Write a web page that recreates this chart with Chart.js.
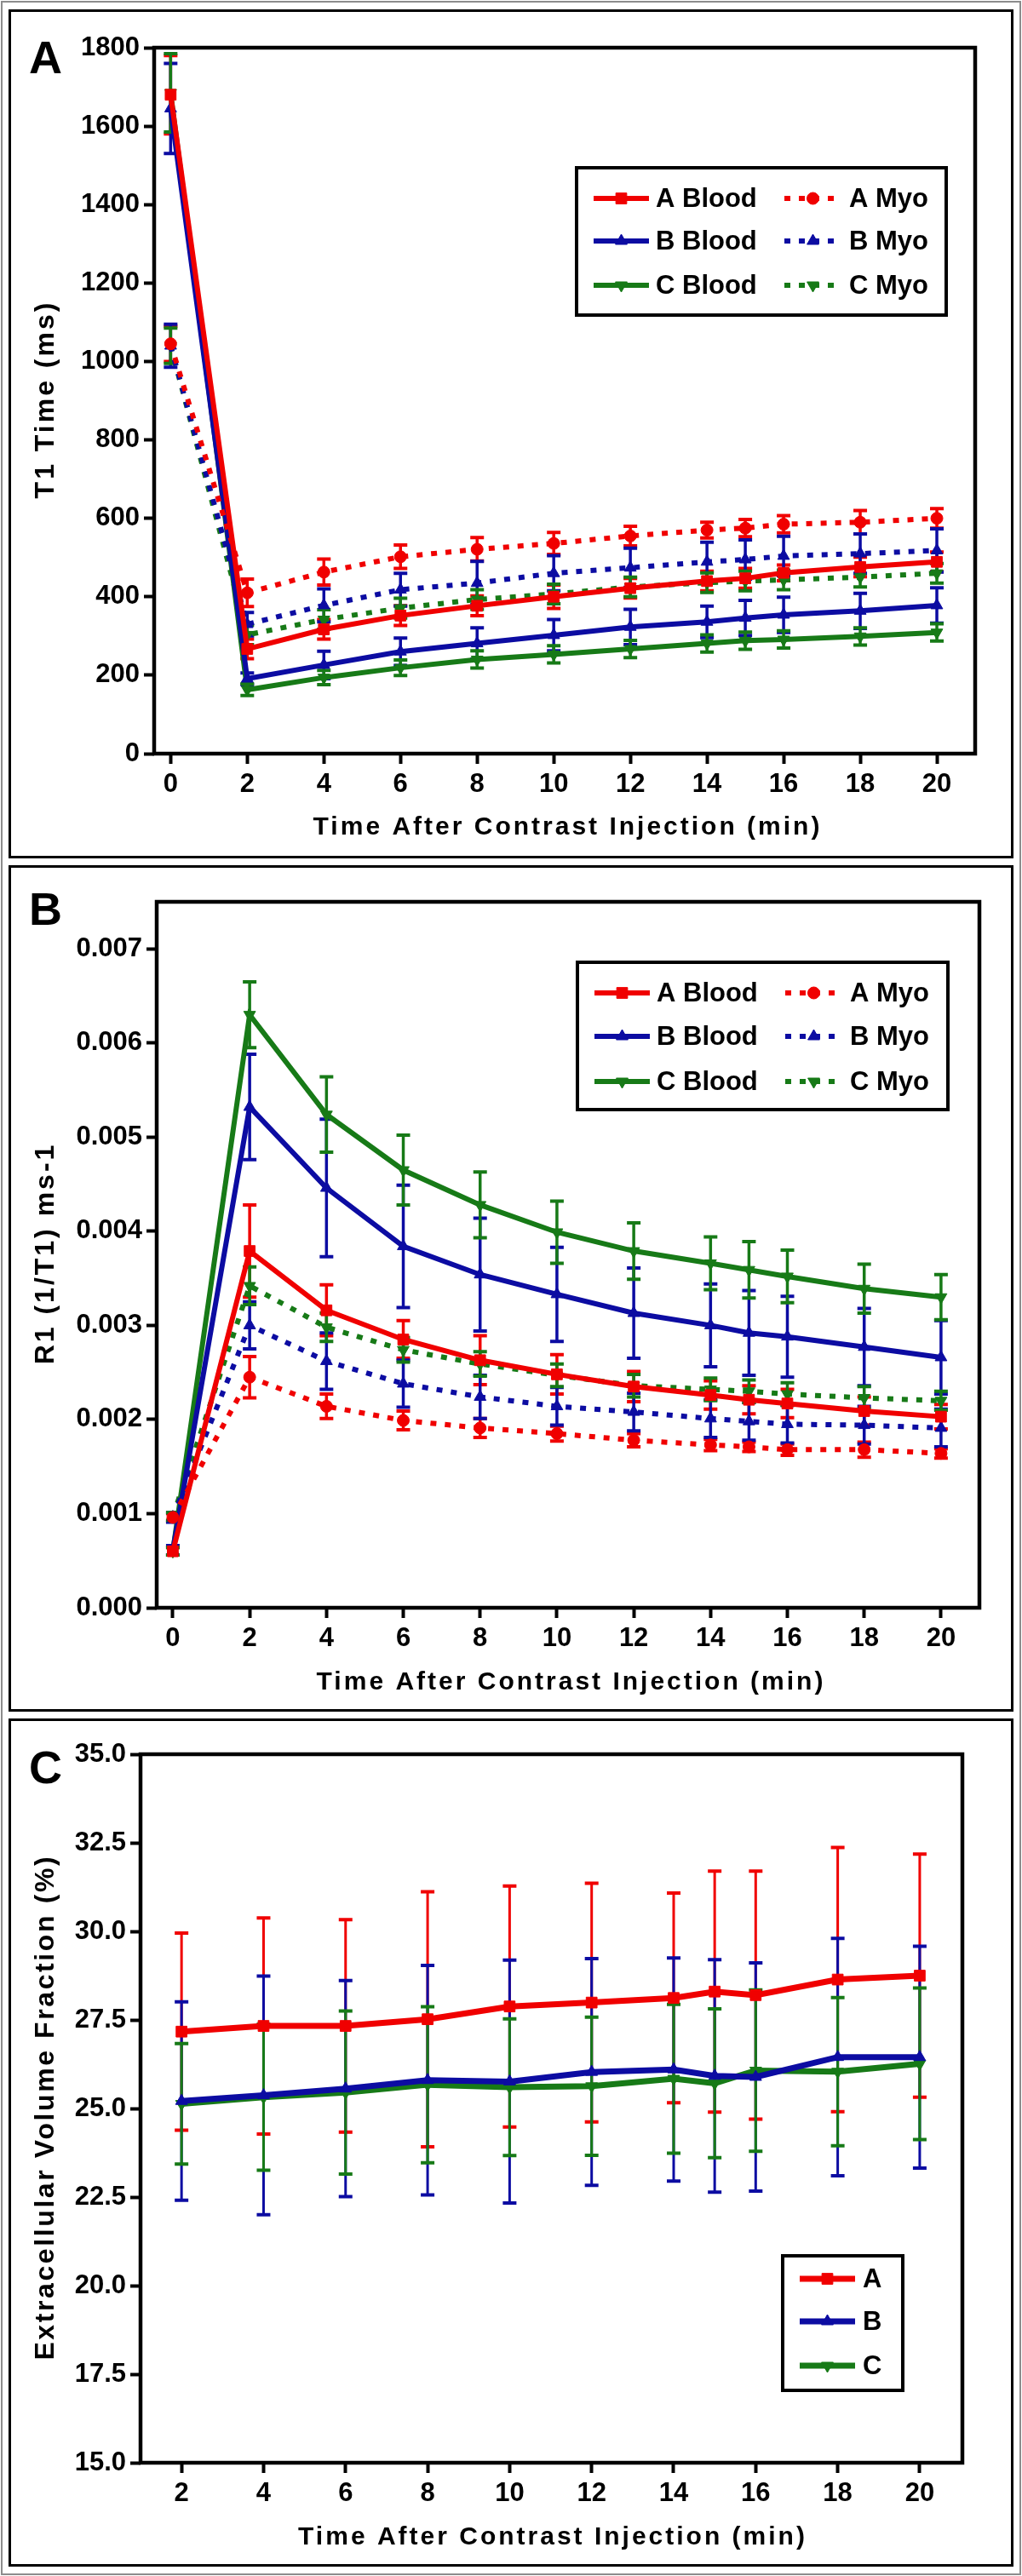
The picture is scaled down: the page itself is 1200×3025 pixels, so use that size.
<!DOCTYPE html>
<html>
<head>
<meta charset="utf-8">
<script src="https://cdn.jsdelivr.net/npm/chart.js@4.4.0/dist/chart.umd.min.js"></script>
<style>
html,body{margin:0;padding:0;background:#fff;}
#page{position:relative;width:1200px;height:3025px;overflow:hidden;background:#fff;}
.wrap{position:absolute;left:0;width:1200px;}
canvas{display:block;}
.frame{position:absolute;border:3px solid #000;box-sizing:border-box;pointer-events:none;}
.outer{position:absolute;border:2px solid #8c8c8c;box-sizing:border-box;pointer-events:none;}
</style>
</head>
<body>
<div id="page">
  <div class="wrap" style="top:0;height:1006px"><canvas id="cA"></canvas></div>
  <div class="wrap" style="top:1006px;height:1002px"><canvas id="cB"></canvas></div>
  <div class="wrap" style="top:2008px;height:1017px"><canvas id="cC"></canvas></div>
  <div class="outer" style="left:1px;top:1px;width:1198px;height:3023px"></div>
  <div class="frame" style="left:10px;top:11px;width:1180px;height:997px"></div>
  <div class="frame" style="left:10px;top:1016px;width:1180px;height:994px"></div>
  <div class="frame" style="left:10px;top:2018px;width:1180px;height:996px"></div>
</div>
<script>
// ---------- DATA ----------
const timeAB = [0, 2, 4, 6, 8, 10, 12, 14, 15, 16, 18, 20];
const timeC  = [2, 4, 6, 8, 10, 12, 14, 15, 16, 18, 20];
const xTicksAB = [0, 2, 4, 6, 8, 10, 12, 14, 16, 18, 20];
const xTicksC  = [2, 4, 6, 8, 10, 12, 14, 16, 18, 20];
const yTicksA = [0, 200, 400, 600, 800, 1000, 1200, 1400, 1600, 1800];
const yTicksB = [0, 0.001, 0.002, 0.003, 0.004, 0.005, 0.006, 0.007];
const yTicksC = [15, 17.5, 20, 22.5, 25, 27.5, 30, 32.5, 35];

// Panel A: T1 time (ms)
const t1ABlood    = [1680, 267, 317, 352, 377, 400, 422, 440, 447, 461, 476, 489];
const t1ABloodErr = [100, 25, 25, 25, 25, 30, 25, 25, 25, 20, 25, 25];
const t1BBlood    = [1645, 191, 226, 260, 281, 302, 323, 336, 346, 354, 364, 378];
const t1BBloodErr = [115, 15, 35, 35, 40, 40, 45, 40, 45, 45, 45, 45];
const t1CBlood    = [1685, 163, 194, 219, 240, 253, 267, 281, 288, 291, 299, 309];
const t1CBloodErr = [100, 15, 18, 20, 22, 22, 22, 22, 22, 22, 22, 22];
const t1AMyo      = [1045, 410, 463, 502, 521, 536, 555, 570, 575, 585, 590, 600];
const t1AMyoErr   = [45, 35, 33, 30, 30, 28, 25, 20, 22, 22, 30, 25];
const t1BMyo      = [1040, 330, 378, 418, 435, 460, 474, 489, 495, 504, 510, 518];
const t1BMyoErr   = [55, 30, 42, 42, 55, 45, 50, 50, 50, 50, 50, 55];
const t1CMyo      = [1040, 303, 342, 371, 393, 407, 425, 436, 440, 443, 450, 460];
const t1CMyoErr   = [45, 25, 25, 25, 25, 25, 25, 25, 25, 25, 25, 25];

// Panel B: R1 (1/T1)
const r1ABlood    = [0.00060, 0.00379, 0.00316, 0.00285, 0.00263, 0.00248, 0.00235, 0.00226, 0.00221, 0.00217, 0.00209, 0.00203];
const r1ABloodErr = [0.00004, 0.00049, 0.00027, 0.00020, 0.00026, 0.00021, 0.00016, 0.00015, 0.00015, 0.00015, 0.00015, 0.00013];
const r1BBlood    = [0.00061, 0.00532, 0.00446, 0.00384, 0.00354, 0.00333, 0.00313, 0.00300, 0.00292, 0.00288, 0.00277, 0.00266];
const r1BBloodErr = [0.00005, 0.00056, 0.00073, 0.00065, 0.00060, 0.00050, 0.00048, 0.00044, 0.00045, 0.00043, 0.00041, 0.00039];
const r1CBlood    = [0.00060, 0.00630, 0.00524, 0.00465, 0.00428, 0.00399, 0.00379, 0.00366, 0.00359, 0.00352, 0.00339, 0.00330];
const r1CBloodErr = [0.00004, 0.00035, 0.00040, 0.00037, 0.00035, 0.00033, 0.00030, 0.00028, 0.00030, 0.00028, 0.00026, 0.00024];
const r1AMyo      = [0.00096, 0.00245, 0.00214, 0.00199, 0.00191, 0.00185, 0.00178, 0.00173, 0.00171, 0.00168, 0.00168, 0.00164];
const r1AMyoErr   = [0.00004, 0.00022, 0.00013, 0.00010, 0.00010, 0.00008, 0.00007, 0.00006, 0.00005, 0.00006, 0.00008, 0.00005];
const r1BMyo      = [0.00096, 0.00300, 0.00262, 0.00238, 0.00224, 0.00214, 0.00208, 0.00201, 0.00198, 0.00195, 0.00194, 0.00191];
const r1BMyoErr   = [0.00005, 0.00025, 0.00030, 0.00025, 0.00023, 0.00020, 0.00020, 0.00020, 0.00020, 0.00020, 0.00020, 0.00020];
const r1CMyo      = [0.00097, 0.00342, 0.00298, 0.00274, 0.00259, 0.00247, 0.00236, 0.00232, 0.00230, 0.00227, 0.00223, 0.00220];
const r1CMyoErr   = [0.00004, 0.00020, 0.00015, 0.00013, 0.00013, 0.00012, 0.00012, 0.00012, 0.00012, 0.00012, 0.00012, 0.00010];

// Panel C: extracellular volume fraction (%)
const ecvA    = [27.17, 27.33, 27.33, 27.52, 27.88, 27.99, 28.12, 28.30, 28.20, 28.64, 28.75];
const ecvAErr = [2.78, 3.05, 3.00, 3.60, 3.40, 3.37, 2.96, 3.40, 3.50, 3.73, 3.43];
const ecvB    = [25.21, 25.37, 25.56, 25.80, 25.76, 26.03, 26.10, 25.92, 25.89, 26.45, 26.45];
const ecvBErr = [2.80, 3.37, 3.05, 3.24, 3.43, 3.20, 3.15, 3.28, 3.22, 3.35, 3.13];
const ecvC    = [25.13, 25.32, 25.45, 25.67, 25.60, 25.63, 25.84, 25.71, 26.07, 26.04, 26.26];
const ecvCErr = [1.70, 2.06, 2.30, 2.20, 1.93, 1.95, 2.10, 2.10, 2.28, 2.09, 2.14];

const xTitle = 'Time After Contrast Injection (min)';
const yTitleA = 'T1 Time (ms)';
const yTitleB = 'R1 (1/T1) ms-1';
const yTitleC = 'Extracellular Volume Fraction (%)';

// ---------- STYLE ----------
const RED = '#f00000', BLUE = '#0c0ca2', GREEN = '#177a17';
const FONT = '"Liberation Sans", Arial, Helvetica, sans-serif';
const W = 1200;

function drawMarker(ctx, style, x, y, r, rot, color) {
  ctx.save();
  ctx.fillStyle = color; ctx.strokeStyle = color; ctx.lineWidth = 1; ctx.setLineDash([]);
  ctx.beginPath();
  if (style === 'rect') {
    const s = Math.SQRT1_2 * r;
    ctx.rect(x - s, y - s, 2 * s, 2 * s);
  } else if (style === 'circle') {
    ctx.arc(x, y, r, 0, Math.PI * 2);
  } else {
    let a = (rot || 0) * Math.PI / 180;
    ctx.moveTo(x + Math.sin(a) * r, y - Math.cos(a) * r);
    a += 2 * Math.PI / 3;
    ctx.lineTo(x + Math.sin(a) * r, y - Math.cos(a) * r);
    a += 2 * Math.PI / 3;
    ctx.lineTo(x + Math.sin(a) * r, y - Math.cos(a) * r);
    ctx.closePath();
  }
  ctx.fill(); ctx.stroke();
  ctx.restore();
}

// draws text centred on (0,0) of current transform, with extra letter spacing,
// computing the offset itself (left-aligned draw) so alignment is exact.
function spacedText(ctx, text, spacing) {
  const hasLS = ('letterSpacing' in ctx);
  if (hasLS) ctx.letterSpacing = '0px';
  const w0 = ctx.measureText(text).width;
  const sp = hasLS ? spacing : 0;
  const n = [...text].length;
  const total = w0 + sp * (n - 1);
  if (hasLS) ctx.letterSpacing = sp + 'px';
  ctx.textAlign = 'left';
  ctx.fillText(text, -total / 2, 0);
  if (hasLS) ctx.letterSpacing = '0px';
}

const errorBarPlugin = {
  id: 'errorBars',
  beforeDatasetsDraw(chart, args, o) {
    const ctx = chart.ctx, xs = chart.scales.x, ys = chart.scales.y;
    chart.data.datasets.forEach(ds => {
      if (!ds.errors) return;
      ctx.save();
      ctx.strokeStyle = ds.borderColor; ctx.setLineDash([]); ctx.lineCap = 'butt';
      ds.data.forEach((p, j) => {
        const e = ds.errors[j];
        if (!e) return;
        const px = xs.getPixelForValue(p.x);
        const yt = ys.getPixelForValue(p.y + e), yb = ys.getPixelForValue(p.y - e);
        ctx.lineWidth = o.stem;
        ctx.beginPath(); ctx.moveTo(px, yt); ctx.lineTo(px, yb); ctx.stroke();
        ctx.lineWidth = o.capThick;
        ctx.beginPath();
        ctx.moveTo(px - o.cap / 2, yt); ctx.lineTo(px + o.cap / 2, yt);
        ctx.moveTo(px - o.cap / 2, yb); ctx.lineTo(px + o.cap / 2, yb);
        ctx.stroke();
      });
      ctx.restore();
    });
  }
};

const decorPlugin = {
  id: 'decor',
  afterDraw(chart, args, o) {
    const ctx = chart.ctx, a = chart.chartArea;
    ctx.save();
    // plot box
    ctx.strokeStyle = '#000'; ctx.lineWidth = 4.5; ctx.setLineDash([]);
    ctx.strokeRect(a.left, a.top, a.right - a.left, a.bottom - a.top);
    ctx.fillStyle = '#000';
    ctx.textBaseline = 'middle';
    // x title
    ctx.save();
    ctx.font = 'bold 30px ' + FONT;
    ctx.translate((a.left + a.right) / 2 + o.xTitleDx, o.xTitleY);
    spacedText(ctx, o.xTitle, o.xSpacing);
    ctx.restore();
    // y title
    ctx.save();
    ctx.font = 'bold ' + o.yFont + 'px ' + FONT;
    ctx.translate(o.yTitleX, (a.top + a.bottom) / 2);
    ctx.rotate(-Math.PI / 2);
    spacedText(ctx, o.yTitle, o.ySpacing);
    ctx.restore();
    // panel letter
    ctx.font = 'bold 54px ' + FONT;
    ctx.textAlign = 'left'; ctx.textBaseline = 'alphabetic';
    ctx.fillText(o.letter, o.letterX, o.letterY);
    // legend
    const L = o.legend;
    ctx.fillStyle = '#fff';
    ctx.fillRect(L.box[0], L.box[1], L.box[2] - L.box[0], L.box[3] - L.box[1]);
    ctx.strokeStyle = '#000'; ctx.lineWidth = 4;
    ctx.strokeRect(L.box[0], L.box[1], L.box[2] - L.box[0], L.box[3] - L.box[1]);
    L.items.forEach(it => {
      const ds = chart.data.datasets[it.ds];
      ctx.save();
      ctx.strokeStyle = ds.borderColor; ctx.lineWidth = ds.borderWidth;
      ctx.setLineDash(ds.borderDash || []); ctx.lineCap = 'butt';
      ctx.beginPath(); ctx.moveTo(it.x0, it.y); ctx.lineTo(it.x1, it.y); ctx.stroke();
      ctx.setLineDash([]);
      drawMarker(ctx, ds.pointStyle, (it.x0 + it.x1) / 2, it.y, ds.pointRadius, ds.rotation, ds.borderColor);
      ctx.fillStyle = '#000';
      ctx.font = 'bold ' + L.font + 'px ' + FONT;
      ctx.textAlign = 'left'; ctx.textBaseline = 'middle';
      ctx.fillText(ds.label, it.tx, it.y + 1);
      ctx.restore();
    });
    ctx.restore();
  }
};

function makePanel(id, H, P) {
  const canvas = document.getElementById(id);
  canvas.width = W; canvas.height = H;
  canvas.style.width = W + 'px'; canvas.style.height = H + 'px';
  const datasets = P.series.map(s => ({
    label: s.label,
    data: P.x.map((xv, i) => ({ x: xv, y: s.values[i] })),
    errors: s.errors,
    borderColor: s.color,
    backgroundColor: s.color,
    borderWidth: P.lineWidth,
    borderDash: s.dashed ? P.dash : [],
    borderCapStyle: 'butt',
    pointStyle: s.marker,
    rotation: s.rot || 0,
    pointRadius: s.radius,
    pointBorderWidth: 1,
    pointBorderColor: s.color,
    pointBackgroundColor: s.color,
    tension: 0,
    fill: false,
    clip: 20
  }));
  const tickFont = { family: FONT, size: 31, weight: 'bold' };
  return new Chart(canvas, {
    type: 'line',
    data: { datasets },
    options: {
      responsive: false, animation: false, devicePixelRatio: 1, events: [],
      layout: { padding: { left: 0, top: P.area.top, right: W - P.area.right, bottom: 0 } },
      plugins: {
        legend: { display: false }, tooltip: { enabled: false },
        errorBars: P.err,
        decor: P.decor
      },
      scales: {
        x: {
          type: 'linear', min: P.xMin, max: P.xMax,
          afterBuildTicks: s => { s.ticks = P.xTicks.map(v => ({ value: v })); },
          afterFit: s => { s.height = H - P.area.bottom; },
          border: { display: false },
          grid: { display: true, drawOnChartArea: false, drawTicks: true, tickLength: 12, tickWidth: 4, tickColor: '#000', color: '#000' },
          ticks: { color: '#000', font: tickFont, padding: 6, maxRotation: 0, autoSkip: false, callback: v => String(v) },
          title: { display: false }
        },
        y: {
          type: 'linear', min: P.yMin, max: P.yMax,
          afterBuildTicks: s => { s.ticks = P.yTicks.map(v => ({ value: v })); },
          afterFit: s => { s.width = P.area.left; },
          border: { display: false },
          grid: { display: true, drawOnChartArea: false, drawTicks: true, tickLength: 12, tickWidth: 4, tickColor: '#000', color: '#000' },
          ticks: { color: '#000', font: tickFont, padding: 5, autoSkip: false, callback: P.yFmt },
          title: { display: false }
        }
      }
    },
    plugins: [errorBarPlugin, decorPlugin]
  });
}

// ---------- PANEL A ----------
makePanel('cA', 1006, {
  x: timeAB, xMin: -0.43, xMax: 21.0, xTicks: xTicksAB,
  yMin: 0, yMax: 1800, yTicks: yTicksA, yFmt: v => String(v),
  area: { left: 181, top: 56, right: 1145, bottom: 885 },
  lineWidth: 6, dash: [7, 10],
  err: { stem: 3.5, cap: 16, capThick: 4 },
  series: [
    { label: 'A Blood', values: t1ABlood, errors: t1ABloodErr, color: RED, marker: 'rect', radius: 9 },
    { label: 'A Myo', values: t1AMyo, errors: t1AMyoErr, color: RED, marker: 'circle', radius: 7, dashed: true },
    { label: 'B Blood', values: t1BBlood, errors: t1BBloodErr, color: BLUE, marker: 'triangle', radius: 8 },
    { label: 'B Myo', values: t1BMyo, errors: t1BMyoErr, color: BLUE, marker: 'triangle', radius: 8, dashed: true },
    { label: 'C Blood', values: t1CBlood, errors: t1CBloodErr, color: GREEN, marker: 'triangle', rot: 180, radius: 8 },
    { label: 'C Myo', values: t1CMyo, errors: t1CMyoErr, color: GREEN, marker: 'triangle', rot: 180, radius: 8, dashed: true }
  ],
  decor: {
    xTitle: xTitle, xTitleY: 972, xTitleDx: 2, xSpacing: 3,
    yTitle: yTitleA, yTitleX: 54, yFont: 32, ySpacing: 3,
    letter: 'A', letterX: 34, letterY: 86,
    legend: {
      box: [677, 197, 1111, 370], font: 31,
      items: [
        { ds: 0, x0: 697, x1: 762, tx: 770, y: 233 },
        { ds: 1, x0: 921, x1: 988, tx: 997, y: 233 },
        { ds: 2, x0: 697, x1: 762, tx: 770, y: 283 },
        { ds: 3, x0: 921, x1: 988, tx: 997, y: 283 },
        { ds: 4, x0: 697, x1: 762, tx: 770, y: 335 },
        { ds: 5, x0: 921, x1: 988, tx: 997, y: 335 }
      ]
    }
  }
});

// ---------- PANEL B ----------
makePanel('cB', 1002, {
  x: timeAB, xMin: -0.42, xMax: 21.0, xTicks: xTicksAB,
  yMin: 0, yMax: 0.0075, yTicks: yTicksB, yFmt: v => v.toFixed(3),
  area: { left: 184, top: 53, right: 1150, bottom: 882 },
  lineWidth: 6, dash: [7, 10],
  err: { stem: 3.5, cap: 16, capThick: 4 },
  series: [
    { label: 'A Blood', values: r1ABlood, errors: r1ABloodErr, color: RED, marker: 'rect', radius: 9 },
    { label: 'A Myo', values: r1AMyo, errors: r1AMyoErr, color: RED, marker: 'circle', radius: 7, dashed: true },
    { label: 'B Blood', values: r1BBlood, errors: r1BBloodErr, color: BLUE, marker: 'triangle', radius: 8 },
    { label: 'B Myo', values: r1BMyo, errors: r1BMyoErr, color: BLUE, marker: 'triangle', radius: 8, dashed: true },
    { label: 'C Blood', values: r1CBlood, errors: r1CBloodErr, color: GREEN, marker: 'triangle', rot: 180, radius: 8 },
    { label: 'C Myo', values: r1CMyo, errors: r1CMyoErr, color: GREEN, marker: 'triangle', rot: 180, radius: 8, dashed: true }
  ],
  decor: {
    xTitle: xTitle, xTitleY: 970, xTitleDx: 2, xSpacing: 3,
    yTitle: yTitleB, yTitleX: 54, yFont: 32, ySpacing: 3,
    letter: 'B', letterX: 34, letterY: 80,
    legend: {
      box: [678, 124, 1113, 297], font: 31,
      items: [
        { ds: 0, x0: 698, x1: 763, tx: 771, y: 160 },
        { ds: 1, x0: 922, x1: 989, tx: 998, y: 160 },
        { ds: 2, x0: 698, x1: 763, tx: 771, y: 211 },
        { ds: 3, x0: 922, x1: 989, tx: 998, y: 211 },
        { ds: 4, x0: 698, x1: 763, tx: 771, y: 264 },
        { ds: 5, x0: 922, x1: 989, tx: 998, y: 264 }
      ]
    }
  }
});

// ---------- PANEL C ----------
makePanel('cC', 1017, {
  x: timeC, xMin: 1.0, xMax: 21.04, xTicks: xTicksC,
  yMin: 15, yMax: 35, yTicks: yTicksC, yFmt: v => v.toFixed(1),
  area: { left: 165, top: 52, right: 1130, bottom: 884 },
  lineWidth: 7, dash: [],
  err: { stem: 3, cap: 16, capThick: 4 },
  series: [
    { label: 'A', values: ecvA, errors: ecvAErr, color: RED, marker: 'rect', radius: 9 },
    { label: 'B', values: ecvB, errors: ecvBErr, color: BLUE, marker: 'triangle', radius: 8 },
    { label: 'C', values: ecvC, errors: ecvCErr, color: GREEN, marker: 'triangle', rot: 180, radius: 8 }
  ],
  decor: {
    xTitle: xTitle, xTitleY: 972, xTitleDx: 0, xSpacing: 3,
    yTitle: yTitleC, yTitleX: 54, yFont: 32, ySpacing: 2.6,
    letter: 'C', letterX: 34, letterY: 86,
    legend: {
      box: [919, 641, 1060, 799], font: 31,
      items: [
        { ds: 0, x0: 939, x1: 1004, tx: 1013, y: 668 },
        { ds: 1, x0: 939, x1: 1004, tx: 1013, y: 718 },
        { ds: 2, x0: 939, x1: 1004, tx: 1013, y: 770 }
      ]
    }
  }
});
</script>
</body>
</html>
